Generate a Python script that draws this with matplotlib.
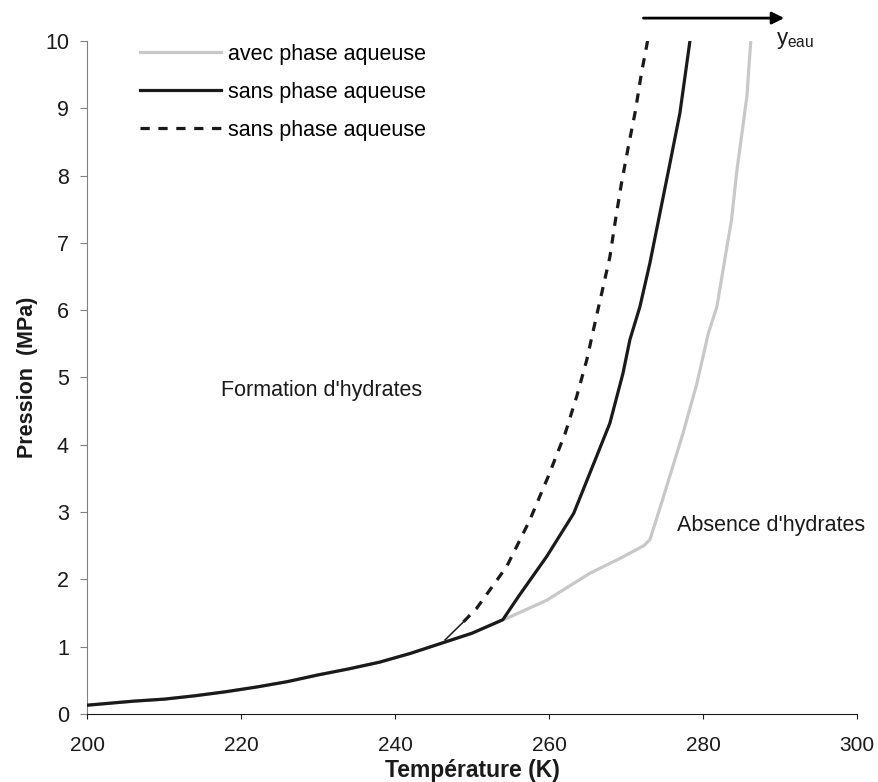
import matplotlib.pyplot as plt

# courbe commune (basse pression)
t_commun = [200, 203, 206, 210, 214, 218, 222, 226, 230, 234, 238, 242, 246, 250, 254]
p_commun = [0.13, 0.16, 0.19, 0.22, 0.27, 0.33, 0.40, 0.48, 0.58, 0.67, 0.77, 0.90, 1.05, 1.20, 1.40]

# avec phase aqueuse (gris)
t_avec = t_commun + [254.5, 259.7, 265.3, 269.2, 272.3, 273.1, 273.8, 274.6, 277.4, 279.2,
                     280.7, 281.8, 283.1, 283.7, 284.4, 285.0, 285.7, 286.2]
p_avec = p_commun + [1.42, 1.69, 2.09, 2.31, 2.50, 2.59, 2.84, 3.13, 4.17, 4.91,
                     5.66, 6.05, 6.94, 7.34, 8.08, 8.58, 9.18, 10.0]

# sans phase aqueuse (noir)
t_sans = t_commun + [256.0, 259.7, 263.2, 265.8, 267.9, 269.6, 270.5, 271.8, 273.1, 274.4,
                     275.7, 277.0, 278.3]
p_sans = p_commun + [1.74, 2.34, 2.98, 3.72, 4.32, 5.06, 5.56, 6.05, 6.70, 7.44,
                     8.18, 8.93, 10.0]

# sans phase aqueuse (pointillés)
t_pointi = [246.5, 248.9, 250.6, 254.5, 257.5, 259.9, 262.1, 263.6, 264.9, 266.2, 266.8,
            267.9, 268.6, 269.4, 270.3, 271.2, 272.0, 272.8]
p_pointi = [1.10, 1.37, 1.57, 2.19, 2.88, 3.53, 4.17, 4.72, 5.26, 5.93, 6.23,
            6.79, 7.32, 7.88, 8.43, 8.95, 9.52, 10.0]

plt.rcParams['font.family'] = ['Liberation Sans', 'DejaVu Sans']

fig = plt.figure(figsize=(8.79, 7.82), dpi=100)
ax = fig.add_axes([0.099, 0.087, 0.876, 0.8606])

ax.plot(t_avec, p_avec, color='#c8c8c8', lw=2.3, label='avec phase aqueuse', zorder=2)
ax.plot(t_sans, p_sans, color='#1a1a1a', lw=2.3, label='sans phase aqueuse', zorder=3)
ax.plot(t_pointi[:2], p_pointi[:2], color='#1a1a1a', lw=1.1, zorder=3)
ax.plot(t_pointi[1:], p_pointi[1:], color='#1a1a1a', lw=2.3, ls=(0, (2.9, 2.7)),
        label='sans phase aqueuse', zorder=3)

ax.set_xlim(200, 300)
ax.set_ylim(0, 10)
ax.set_xticks(range(200, 301, 20))
ax.set_yticks(range(0, 11))

for s in ['top', 'right']:
    ax.spines[s].set_visible(False)
ax.spines['left'].set_color('#808080')
ax.spines['bottom'].set_color('#1a1a1a')
ax.tick_params(axis='y', direction='out', length=5, color='#808080', labelsize=15.5,
               labelcolor='#1a1a1a', pad=8)
ax.tick_params(axis='x', direction='out', length=3.6, color='#1a1a1a', labelsize=15,
               labelcolor='#1a1a1a', pad=12)

ax.set_xlabel('Température (K)', fontsize=16.5, fontweight='bold', color='#1a1a1a', labelpad=3)
ax.set_ylabel('Pression  (MPa)', fontsize=15.5, fontweight='bold', color='#1a1a1a', labelpad=5)

ax.legend(loc='upper left', bbox_to_anchor=(0.058, 1.009), frameon=False, fontsize=15.5,
          handlelength=3.77, handletextpad=0.3, labelspacing=0.8, borderaxespad=0)

ax.text(230.5, 4.81, "Formation d'hydrates", fontsize=15.5, ha='center', va='center',
        color='#1a1a1a')
ax.text(276.6, 2.8, "Absence d'hydrates", fontsize=15.5, ha='left', va='center',
        color='#1a1a1a', clip_on=False)

ax.annotate('', xy=(290.9, 10.34), xytext=(271.9, 10.34), annotation_clip=False,
            arrowprops=dict(arrowstyle='-|>', color='black', lw=2, mutation_scale=18))
ax.text(289.5, 10.0, r'$\mathregular{y_{eau}}$', fontsize=16, ha='left', va='center',
        color='#1a1a1a', clip_on=False)

fig.savefig('out.png', dpi=100)
